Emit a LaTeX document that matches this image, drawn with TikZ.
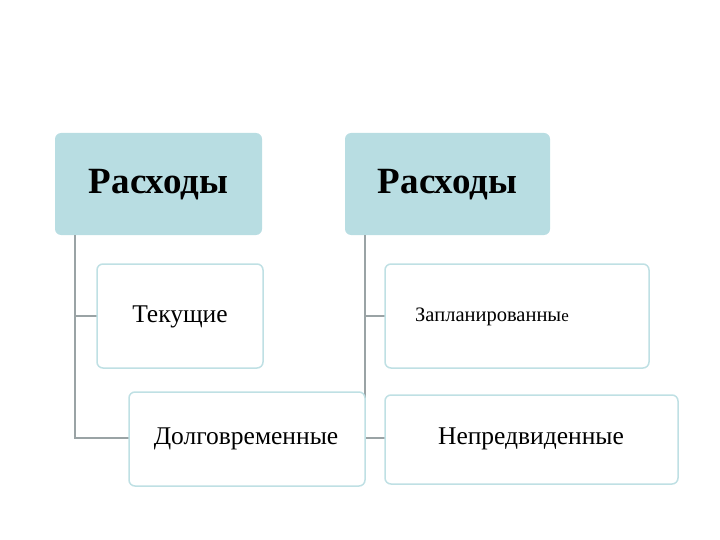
\documentclass[tikz,border=0pt]{standalone}
\usepackage{fontspec}
\setmainfont{Liberation Serif}
\definecolor{hdr}{HTML}{B8DDE2}
\definecolor{bord}{HTML}{BFE0E4}
\definecolor{ln}{HTML}{9AA3A5}
\begin{document}
\begin{tikzpicture}[x=1pt,y=-1pt,
  hbox/.style={fill=hdr,rounded corners=6pt},
  cbox/.style={draw=bord,line width=1.5pt,fill=white,rounded corners=6pt},
  htxt/.style={font=\bfseries\fontsize{37}{40}\selectfont},
  ctxt/.style={font=\fontsize{25.5}{28}\selectfont},
  conn/.style={draw=ln,line width=1.2pt}]
\useasboundingbox (0,0) rectangle (720,540);
\path[hbox] (55,133) rectangle (262,235);
\node[htxt] (h1) at (158.5,185) {Расходы};
\path[hbox] (345,133) rectangle (550,235);
\node[htxt] (h2) at (447.5,185) {Расходы};
\coordinate (t1) at (75,235); \coordinate (t2) at (365,235);
\coordinate (b1) at (75,438); \coordinate (b2) at (365,438);
\coordinate (m1) at (75,316); \coordinate (m2) at (365,316);
\draw[conn] (t1) -- (b1) -- (129,438);
\draw[conn] (m1) -- (97,316);
\draw[conn] (t2) -- (b2) -- (385,438);
\draw[conn] (m2) -- (385,316);
\path[cbox] (97,264) rectangle (263,368);
\node[ctxt] (c1) at (180,317) {Текущие};
\path[cbox] (129,392) rectangle (365,486);
\node[ctxt] (c2) at (246,439) {Долговременные};
\path[cbox] (385,264) rectangle (649,368);
\node[font=\fontsize{20.5}{24}\selectfont] (c3) at (492,317) {Запланированны{\fontsize{17}{20}\selectfont е}};
\path[cbox] (385,395) rectangle (678,484);
\node[ctxt] (c4) at (531,439) {Непредвиденные};
\end{tikzpicture}
\end{document}
